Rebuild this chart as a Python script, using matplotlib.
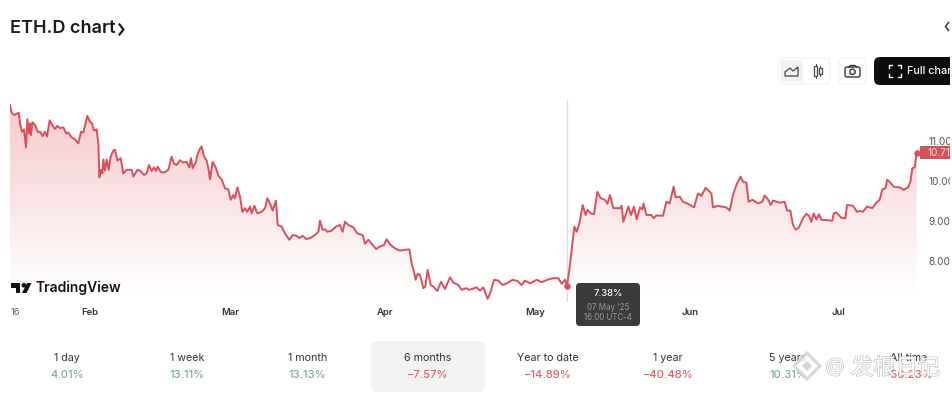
# ETH.D dominance chart, six month view

import numpy as np
from matplotlib import pyplot as plt
from matplotlib.patches import FancyBboxPatch, Rectangle, Polygon, Circle
import matplotlib.patheffects as pe

# Days since 16 Jan 2025 and ETH.D in percent
days = [0.0, .33, .8, 1.33, 1.73, 2.0, 2.4, 2.8, 3.2, 3.47, 3.8, 4.0, 4.2, 4.47, 5.0, 5.53, 6.0, 6.53, 7.0, 7.4,
        7.93, 8.53, 9.0, 9.47, 10.0, 10.67, 11.2, 11.67, 12.33, 13.0, 13.67, 14.2, 14.67, 15.47, 16.0, 16.4, 16.8,
        17.33, 17.67, 17.87, 18.2, 18.47, 18.67, 19.0, 19.33, 19.73, 20.13, 20.67, 21.0, 21.47, 22.13, 22.67,
        23.33, 24.33, 24.67, 25.47, 26.13, 26.8, 27.33, 27.8, 28.33, 28.8, 29.2, 29.53, 30.13, 30.8, 31.67, 32.33,
        32.8, 33.33, 34.0, 34.67, 35.33, 35.87, 36.2, 36.53, 37.2, 37.47, 37.87, 38.33, 38.8, 39.33, 39.67, 40.0,
        40.53, 41.2, 41.67, 42.33, 43.0, 43.67, 44.13, 44.67, 45.0, 45.47, 46.0, 46.47, 47.0, 47.47, 48.0, 48.33,
        48.87, 49.47, 50.33, 51.0, 51.47, 52.13, 52.53, 53.2, 53.53, 54.33, 55.0, 55.87, 56.53, 57.33, 57.87,
        58.53, 59.2, 60.0, 61.0, 61.67,
        62.0, 62.53, 63.0, 63.47, 64.33, 65.2, 66.0, 66.53, 67.0, 67.67, 68.67, 69.47, 70.53, 71.0, 71.67, 72.33,
        73.2, 74.0, 74.8, 75.33, 76.13, 77.2, 78.0, 79.0, 79.87, 80.33, 80.8, 81.13, 81.53, 82.0, 82.67, 83.07,
        83.53, 84.13, 84.67, 85.47, 86.2, 87.0, 88.0, 88.67, 89.67, 90.33, 91.2, 91.87, 93.33, 94.0, 94.67, 95.53,
        96.13, 96.8, 97.67, 98.53, 99.33, 100.53, 101.47, 102.33, 103.0, 104.0, 105.33, 106.33, 107.67, 108.67,
        109.67, 110.33, 111.0, 111.4, 111.87, 112.33, 112.87, 113.33, 113.87, 114.53, 115.13, 115.53, 116.13,
        116.8, 117.47, 118.13, 119.0, 119.47, 120.0, 120.67, 122.0, 122.33, 122.67, 123.67, 124.2, 124.8, 125.33,
        126.0, 126.47, 126.73, 127.27, 128.27, 128.73, 129.27, 130.6, 131.27, 131.93, 132.73, 133.13, 133.93,
        134.6, 135.6, 136.8, 137.6, 138.27, 139.13, 140.27, 140.6, 141.6, 142.27, 143.27, 143.93, 144.6, 145.27,
        146.13, 146.6, 147.27, 147.73, 148.47, 149.6, 150.47, 150.93, 151.6, 152.13, 152.6, 153.93, 154.93, 155.4,
        156.07, 156.6, 157.13, 157.8, 158.6, 159.27, 159.8, 160.27, 160.73, 161.27, 161.8, 162.27, 164.47, 164.73,
        165.27, 166.27, 167.07, 167.4, 168.6, 169.4, 169.93, 170.6, 171.4, 172.47, 173.27, 173.93, 174.47, 175.13,
        175.4, 175.93, 176.73, 177.93, 178.73, 179.6, 180.07, 180.47, 180.93, 181.33]
dominance = [11.90, 11.71, 11.65, 11.68, 11.71, 11.44, 11.23, 11.29, 10.84, 11.54, 11.19, 11.44, 11.15, 11.47, 11.40,
             11.23, 11.23, 11.12, 11.23, 11.11, 11.52, 11.38, 11.30, 11.38, 11.32, 11.34, 11.19, 11.21, 11.09, 11.04,
             10.94, 11.23, 11.21, 11.63, 11.48, 11.44, 11.26, 11.29, 10.94, 10.09, 10.28, 10.19, 10.54, 10.26, 10.54,
             10.28, 10.61, 10.76, 10.78, 10.51, 10.57, 10.19, 10.28, 10.28, 10.11, 10.28, 10.25, 10.15, 10.19, 10.40,
             10.25, 10.34, 10.25, 10.36, 10.23, 10.21, 10.28, 10.61, 10.43, 10.40, 10.52, 10.46, 10.48, 10.34, 10.57,
             10.32, 10.48, 10.65, 10.78, 10.86, 10.61, 10.51, 10.32, 10.04, 10.48, 10.32, 10.13, 10.04, 9.82, 9.79,
             9.53, 9.65, 9.57, 9.84, 9.61, 9.23, 9.32, 9.23, 9.36, 9.19, 9.38, 9.19, 9.23, 9.32, 9.57, 9.40, 9.26,
             9.51, 8.90, 8.86, 8.69, 8.53, 8.65, 8.63, 8.57, 8.63, 8.55, 8.57, 8.65, 8.73,
             9.01, 8.78, 8.79, 8.73, 8.76, 8.86, 8.90, 8.73, 8.98, 8.90, 8.84, 8.69, 8.65, 8.43, 8.53, 8.43, 8.30,
             8.36, 8.40, 8.54, 8.40, 8.30, 8.26, 8.28, 8.29, 7.94, 7.73, 7.53, 7.68, 7.65, 7.32, 7.36, 7.78, 7.40,
             7.36, 7.25, 7.48, 7.30, 7.59, 7.46, 7.40, 7.28, 7.32, 7.28, 7.34, 7.26, 7.34, 7.05, 7.23, 7.53, 7.51,
             7.40, 7.44, 7.53, 7.50, 7.40, 7.51, 7.44, 7.53, 7.47, 7.54, 7.57, 7.57, 7.43, 7.53, 7.38, 7.78, 8.28,
             8.86, 8.73, 8.94, 9.40, 9.15, 9.28, 9.19, 9.17, 9.73, 9.57, 9.53, 9.43, 9.65, 9.32, 9.32, 9.38, 8.98,
             9.36, 9.15, 9.36, 9.04,
             9.34, 9.29, 9.44, 9.15, 9.15, 9.07, 9.14, 9.13, 9.48, 9.44, 9.86, 9.59, 9.61, 9.48, 9.43, 9.34, 9.69,
             9.63, 9.83, 9.69, 9.34, 9.38, 9.36, 9.34, 9.26, 9.65, 9.90, 10.11, 9.98, 9.96, 9.48, 9.53, 9.44, 9.48,
             9.64, 9.54, 9.40, 9.51, 9.46, 9.48, 9.26, 9.26, 8.90, 8.78, 8.84, 9.07, 9.18, 9.13, 8.98, 9.19, 9.04,
             9.17, 9.03, 9.01, 9.19, 9.21, 9.08, 9.07, 9.40, 9.38, 9.23, 9.25, 9.23, 9.36, 9.32, 9.46, 9.53, 9.79,
             9.82, 10.03, 9.98, 9.86, 9.84, 9.78, 9.84, 9.98, 10.32, 10.34, 10.71]

hover_day = 111.4
hover_value = 7.38

y_ticks = [8, 9, 10, 11]
y_labels = ['8.00%', '9.00%', '10.00%', '11.00%']
x_ticks = [1, 16, 44, 75, 105, 136, 165.6]
x_labels = ['16', 'Feb', 'Mar', 'Apr', 'May', 'Jun', 'Jul']

periods = ['1 day', '1 week', '1 month', '6 months', 'Year to date', '1 year', '5 years', 'All time']
changes = ['4.01%', '13.11%', '13.13%', '−7.57%', '−14.89%', '−40.48%', '10.31%', '−56.23%']

RED = '#d9505c'
GREEN = '#7dab9b'
W, H = 953, 394

plt.rcParams['font.family'] = ['Inter', 'Noto Sans CJK SC', 'DejaVu Sans']
fig = plt.figure(figsize=(W / 100, H / 100), dpi=100)

# Price chart, placed by pixels: x 10-917, y 100-302
ax = fig.add_axes([10 / W, 1 - 302 / H, 907 / W, 202 / H])
for s in ax.spines.values():
    s.set_visible(False)

# Gradient under the line, fades out at 7.15
band = ax.fill_between(days, dominance, 7.15, color='none')
grad = np.zeros((256, 1, 4))
grad[..., 0], grad[..., 1], grad[..., 2] = 0.88, 0.33, 0.36
grad[..., 3] = np.linspace(0.32, 0.0, 256).reshape(-1, 1)
im = ax.imshow(grad, extent=[0, 181.4, 7.15, 12.025], aspect='auto', origin='upper', zorder=1)
im.set_clip_path(band.get_paths()[0], transform=ax.transData)

ax.plot(days, dominance, color=RED, lw=1.4, zorder=3)
ax.axvline(hover_day, color='#dcdcdc', lw=0.9, zorder=2)
ax.plot([hover_day], [hover_value], 'o', color=RED, ms=3.6, zorder=4)
ax.plot([days[-1]], [dominance[-1]], 'o', color=RED, ms=3.6, zorder=4, clip_on=False)
ax.set_xlim(0, 181.4)
ax.set_ylim(6.975, 12.025)

ax.yaxis.tick_right()
ax.set_yticks(y_ticks, y_labels)
ax.set_xticks(x_ticks, x_labels)
ax.tick_params(axis='y', length=0, pad=8, labelsize=7.2, labelcolor='#555555')
ax.tick_params(axis='x', length=0, pad=4, labelsize=6.8, labelcolor='#333333')
for lab in ax.get_xticklabels()[1:]:
    lab.set_fontweight('semibold')
ax.get_xticklabels()[0].set_color('#666666')

# Page furniture on a pixel-sized overlay
ui = fig.add_axes([0, 0, 1, 1], zorder=5)
ui.set_xlim(0, W)
ui.set_ylim(H, 0)
ui.axis('off')
ui.patch.set_alpha(0)


def box(x0, y0, x1, y1, r, **kw):
    ui.add_patch(FancyBboxPatch((x0 + r, y0 + r), x1 - x0 - 2 * r, y1 - y0 - 2 * r,
                                boxstyle=f'round,pad={r},rounding_size={r}', **kw))


ui.text(10, 28, 'ETH.D chart', fontsize=13, fontweight='semibold', color='#1c1c1c', va='center')
ui.plot([119.5, 123.5, 119.5], [24.5, 29.5, 34.5], color='#1c1c1c', lw=1.6)
ui.plot([948.5, 945.5, 948.5], [22.5, 26.5, 30.5], color='#333333', lw=1.1)

# Toolbar
box(778, 58, 830, 84, 5, fc='white', ec='#f0f0f0', lw=0.8)
box(780, 60, 803, 82, 4, fc='#f1f1f1', ec='none')
ui.add_patch(Polygon([(785, 76), (785, 72), (790, 68), (793, 71), (798, 67), (798, 76)],
                     closed=True, fc='none', ec='#444444', lw=0.9))
for cx, y0, y1 in [(816, 66, 76), (820.5, 68, 74)]:
    ui.plot([cx, cx], [y0 - 2, y1 + 2], color='#444444', lw=0.7)
    ui.add_patch(Rectangle((cx - 1.5, y0), 3, y1 - y0, fc='white', ec='#444444', lw=0.9, zorder=3))
box(839, 58, 866, 84, 5, fc='white', ec='#f0f0f0', lw=0.8)
box(845, 67, 860, 77, 2, fc='none', ec='#333333', lw=1.0)
ui.plot([849, 850.5, 855, 856.5], [67, 65.5, 65.5, 67], color='#333333', lw=1.0)
ui.add_patch(Circle((852.5, 71.8), 2.7, fc='none', ec='#333333', lw=1.0))
box(874, 57, 960, 85, 6, fc='#0c0c0c', ec='none')
for sx, sy in [(1, 1), (-1, 1), (1, -1), (-1, -1)]:
    cx, cy = 895 + sx * 6, 71 + sy * 6
    ui.plot([cx - sx * 3, cx, cx], [cy, cy, cy - sy * 3], color='white', lw=1.0)
ui.text(907, 71, 'Full chart', fontsize=7.8, fontweight='medium', color='white', va='center')

# TradingView logo
ui.add_patch(Polygon([(11, 283), (20.5, 283), (20.5, 293), (16, 293), (16, 287.5), (11, 287.5)],
                     closed=True, fc='#111111', ec='none'))
ui.add_patch(Circle((23.8, 285.3), 2.3, fc='#111111', ec='none'))
ui.add_patch(Polygon([(27, 283), (31.5, 283), (26.5, 293), (22, 293)], closed=True, fc='#111111', ec='none'))
ui.text(36, 288, 'TradingView', fontsize=10, fontweight='semibold', color='#151515', va='center')

# Hover tooltip
box(576, 283, 640, 326, 4, fc='#3b3b3b', ec='none')
ui.text(608, 294, '7.38%', fontsize=6.8, color='white', ha='center', va='center', fontweight='medium')
ui.text(608, 307.5, "07 May '25", fontsize=5.7, color='#9a9a9a', ha='center', va='center')
ui.text(608, 317.5, '16:00 UTC-4', fontsize=5.7, color='#9a9a9a', ha='center', va='center')

# Last value tag
ui.add_patch(Rectangle((920, 146), 33, 12.5, fc=RED, ec='none'))
ui.text(928, 152.5, '10.71%', fontsize=7.2, color='#f8dcdc', va='center')

# Period table
box(371, 341, 485, 392, 7, fc='#f2f2f2', ec='none')
for i, (p, c) in enumerate(zip(periods, changes)):
    cx = 67 + i * 120.2
    ui.text(cx, 358, p, fontsize=7.7, color='#333333', ha='center', va='center')
    ui.text(cx, 375, c, fontsize=8, color='#e0606a' if c.startswith('−') else GREEN,
            ha='center', va='center', fontweight='medium')

# Right edge of the screenshot is blank
ui.add_patch(Rectangle((950, 0), 3, H, fc='white', ec='none', zorder=6))

# Watermark
stroke = [pe.withStroke(linewidth=1.0, foreground='#c4c4c4')]
ui.add_patch(Polygon([(794, 366), (807, 353), (820, 366), (807, 379)], closed=True,
                     fc='#ffffff', ec='#d2d2d2', lw=2.2, alpha=0.85, zorder=7))
ui.add_patch(Polygon([(802, 366), (807, 361), (812, 366), (807, 371)], closed=True,
                     fc='#d5d5d5', ec='none', zorder=7))
ui.text(835, 367, '@', fontsize=14, color='white', ha='center', va='center', path_effects=stroke, zorder=7)
ui.text(851, 368, '发根日记', fontsize=16, color='white', va='center', path_effects=stroke, zorder=7)

fig.savefig('out.png', dpi=100)
